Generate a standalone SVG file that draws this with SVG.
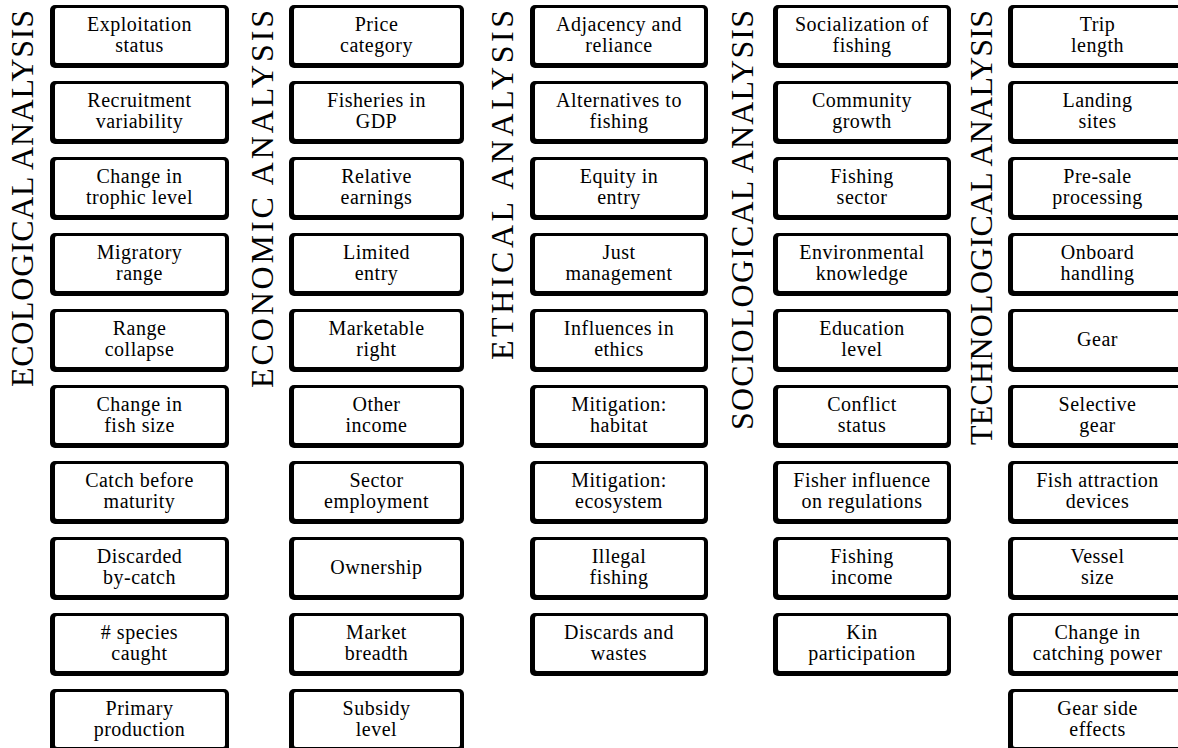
<svg xmlns="http://www.w3.org/2000/svg" xmlns:xlink="http://www.w3.org/1999/xlink" width="1178" height="748" viewBox="0 0 1178 748">
  <style>
    .title { font-family: "Liberation Serif", "Times New Roman", serif; font-size: 32px; fill: #000; }
    .lbl { font-family: "Liberation Serif", "Times New Roman", serif; font-size: 20px; letter-spacing: 0.5px; fill: #000; text-anchor: middle; }
  </style>
  <defs>
    <!-- box frames: heavy left/bottom edge, lighter top/right -->
    <g id="f175"><rect width="175" height="63" rx="5" fill="#000"/><rect x="5" y="3" width="166" height="55" rx="2" fill="#fff"/></g>
    <g id="f178"><rect width="178" height="63" rx="5" fill="#000"/><rect x="5" y="3" width="169" height="55" rx="2" fill="#fff"/></g>
    <g id="f179"><rect width="179" height="63" rx="5" fill="#000"/><rect x="5" y="3" width="170" height="55" rx="2" fill="#fff"/></g>
  </defs>
  <rect width="1178" height="748" fill="#fff"/>

  <!-- column headings -->
  <g id="titles">
    <text class="title" transform="translate(33,10) rotate(-90)" text-anchor="end" textLength="377">ECOLOGICAL ANALYSIS</text>
    <text class="title" transform="translate(273,10) rotate(-90)" text-anchor="end" textLength="378">ECONOMIC ANALYSIS</text>
    <text class="title" transform="translate(513,10) rotate(-90)" text-anchor="end" textLength="350">ETHICAL ANALYSIS</text>
    <text class="title" transform="translate(753,10) rotate(-90)" text-anchor="end" textLength="420">SOCIOLOGICAL ANALYSIS</text>
    <text class="title" transform="translate(992,10) rotate(-90)" text-anchor="end" textLength="435">TECHNOLOGICAL ANALYSIS</text>
  </g>

  <!-- ecological -->
  <g id="eco-1" transform="translate(50,5)"><use xlink:href="#f179"/><text class="lbl" x="89.5" y="26">Exploitation</text><text class="lbl" x="89.5" y="47">status</text></g>
  <g id="eco-2" transform="translate(50,81)"><use xlink:href="#f179"/><text class="lbl" x="89.5" y="26">Recruitment</text><text class="lbl" x="89.5" y="47">variability</text></g>
  <g id="eco-3" transform="translate(50,157)"><use xlink:href="#f179"/><text class="lbl" x="89.5" y="26">Change in</text><text class="lbl" x="89.5" y="47">trophic level</text></g>
  <g id="eco-4" transform="translate(50,233)"><use xlink:href="#f179"/><text class="lbl" x="89.5" y="26">Migratory</text><text class="lbl" x="89.5" y="47">range</text></g>
  <g id="eco-5" transform="translate(50,309)"><use xlink:href="#f179"/><text class="lbl" x="89.5" y="26">Range</text><text class="lbl" x="89.5" y="47">collapse</text></g>
  <g id="eco-6" transform="translate(50,385)"><use xlink:href="#f179"/><text class="lbl" x="89.5" y="26">Change in</text><text class="lbl" x="89.5" y="47">fish size</text></g>
  <g id="eco-7" transform="translate(50,461)"><use xlink:href="#f179"/><text class="lbl" x="89.5" y="26">Catch before</text><text class="lbl" x="89.5" y="47">maturity</text></g>
  <g id="eco-8" transform="translate(50,537)"><use xlink:href="#f179"/><text class="lbl" x="89.5" y="26">Discarded</text><text class="lbl" x="89.5" y="47">by-catch</text></g>
  <g id="eco-9" transform="translate(50,613)"><use xlink:href="#f179"/><text class="lbl" x="89.5" y="26"># species</text><text class="lbl" x="89.5" y="47">caught</text></g>
  <g id="eco-10" transform="translate(50,689)"><use xlink:href="#f179"/><text class="lbl" x="89.5" y="26">Primary</text><text class="lbl" x="89.5" y="47">production</text></g>

  <!-- economic -->
  <g id="econ-1" transform="translate(289,5)"><use xlink:href="#f175"/><text class="lbl" x="87.5" y="26">Price</text><text class="lbl" x="87.5" y="47">category</text></g>
  <g id="econ-2" transform="translate(289,81)"><use xlink:href="#f175"/><text class="lbl" x="87.5" y="26">Fisheries in</text><text class="lbl" x="87.5" y="47">GDP</text></g>
  <g id="econ-3" transform="translate(289,157)"><use xlink:href="#f175"/><text class="lbl" x="87.5" y="26">Relative</text><text class="lbl" x="87.5" y="47">earnings</text></g>
  <g id="econ-4" transform="translate(289,233)"><use xlink:href="#f175"/><text class="lbl" x="87.5" y="26">Limited</text><text class="lbl" x="87.5" y="47">entry</text></g>
  <g id="econ-5" transform="translate(289,309)"><use xlink:href="#f175"/><text class="lbl" x="87.5" y="26">Marketable</text><text class="lbl" x="87.5" y="47">right</text></g>
  <g id="econ-6" transform="translate(289,385)"><use xlink:href="#f175"/><text class="lbl" x="87.5" y="26">Other</text><text class="lbl" x="87.5" y="47">income</text></g>
  <g id="econ-7" transform="translate(289,461)"><use xlink:href="#f175"/><text class="lbl" x="87.5" y="26">Sector</text><text class="lbl" x="87.5" y="47">employment</text></g>
  <g id="econ-8" transform="translate(289,537)"><use xlink:href="#f175"/><text class="lbl" x="87.5" y="37">Ownership</text></g>
  <g id="econ-9" transform="translate(289,613)"><use xlink:href="#f175"/><text class="lbl" x="87.5" y="26">Market</text><text class="lbl" x="87.5" y="47">breadth</text></g>
  <g id="econ-10" transform="translate(289,689)"><use xlink:href="#f175"/><text class="lbl" x="87.5" y="26">Subsidy</text><text class="lbl" x="87.5" y="47">level</text></g>

  <!-- ethical -->
  <g id="eth-1" transform="translate(530,5)"><use xlink:href="#f178"/><text class="lbl" x="89" y="26">Adjacency and</text><text class="lbl" x="89" y="47">reliance</text></g>
  <g id="eth-2" transform="translate(530,81)"><use xlink:href="#f178"/><text class="lbl" x="89" y="26">Alternatives to</text><text class="lbl" x="89" y="47">fishing</text></g>
  <g id="eth-3" transform="translate(530,157)"><use xlink:href="#f178"/><text class="lbl" x="89" y="26">Equity in</text><text class="lbl" x="89" y="47">entry</text></g>
  <g id="eth-4" transform="translate(530,233)"><use xlink:href="#f178"/><text class="lbl" x="89" y="26">Just</text><text class="lbl" x="89" y="47">management</text></g>
  <g id="eth-5" transform="translate(530,309)"><use xlink:href="#f178"/><text class="lbl" x="89" y="26">Influences in</text><text class="lbl" x="89" y="47">ethics</text></g>
  <g id="eth-6" transform="translate(530,385)"><use xlink:href="#f178"/><text class="lbl" x="89" y="26">Mitigation:</text><text class="lbl" x="89" y="47">habitat</text></g>
  <g id="eth-7" transform="translate(530,461)"><use xlink:href="#f178"/><text class="lbl" x="89" y="26">Mitigation:</text><text class="lbl" x="89" y="47">ecosystem</text></g>
  <g id="eth-8" transform="translate(530,537)"><use xlink:href="#f178"/><text class="lbl" x="89" y="26">Illegal</text><text class="lbl" x="89" y="47">fishing</text></g>
  <g id="eth-9" transform="translate(530,613)"><use xlink:href="#f178"/><text class="lbl" x="89" y="26">Discards and</text><text class="lbl" x="89" y="47">wastes</text></g>

  <!-- sociological -->
  <g id="soc-1" transform="translate(773,5)"><use xlink:href="#f178"/><text class="lbl" x="89" y="26">Socialization of</text><text class="lbl" x="89" y="47">fishing</text></g>
  <g id="soc-2" transform="translate(773,81)"><use xlink:href="#f178"/><text class="lbl" x="89" y="26">Community</text><text class="lbl" x="89" y="47">growth</text></g>
  <g id="soc-3" transform="translate(773,157)"><use xlink:href="#f178"/><text class="lbl" x="89" y="26">Fishing</text><text class="lbl" x="89" y="47">sector</text></g>
  <g id="soc-4" transform="translate(773,233)"><use xlink:href="#f178"/><text class="lbl" x="89" y="26">Environmental</text><text class="lbl" x="89" y="47">knowledge</text></g>
  <g id="soc-5" transform="translate(773,309)"><use xlink:href="#f178"/><text class="lbl" x="89" y="26">Education</text><text class="lbl" x="89" y="47">level</text></g>
  <g id="soc-6" transform="translate(773,385)"><use xlink:href="#f178"/><text class="lbl" x="89" y="26">Conflict</text><text class="lbl" x="89" y="47">status</text></g>
  <g id="soc-7" transform="translate(773,461)"><use xlink:href="#f178"/><text class="lbl" x="89" y="26">Fisher influence</text><text class="lbl" x="89" y="47">on regulations</text></g>
  <g id="soc-8" transform="translate(773,537)"><use xlink:href="#f178"/><text class="lbl" x="89" y="26">Fishing</text><text class="lbl" x="89" y="47">income</text></g>
  <g id="soc-9" transform="translate(773,613)"><use xlink:href="#f178"/><text class="lbl" x="89" y="26">Kin</text><text class="lbl" x="89" y="47">participation</text></g>

  <!-- technological -->
  <g id="tech-1" transform="translate(1008,5)"><use xlink:href="#f179"/><text class="lbl" x="89.5" y="26">Trip</text><text class="lbl" x="89.5" y="47">length</text></g>
  <g id="tech-2" transform="translate(1008,81)"><use xlink:href="#f179"/><text class="lbl" x="89.5" y="26">Landing</text><text class="lbl" x="89.5" y="47">sites</text></g>
  <g id="tech-3" transform="translate(1008,157)"><use xlink:href="#f179"/><text class="lbl" x="89.5" y="26">Pre-sale</text><text class="lbl" x="89.5" y="47">processing</text></g>
  <g id="tech-4" transform="translate(1008,233)"><use xlink:href="#f179"/><text class="lbl" x="89.5" y="26">Onboard</text><text class="lbl" x="89.5" y="47">handling</text></g>
  <g id="tech-5" transform="translate(1008,309)"><use xlink:href="#f179"/><text class="lbl" x="89.5" y="37">Gear</text></g>
  <g id="tech-6" transform="translate(1008,385)"><use xlink:href="#f179"/><text class="lbl" x="89.5" y="26">Selective</text><text class="lbl" x="89.5" y="47">gear</text></g>
  <g id="tech-7" transform="translate(1008,461)"><use xlink:href="#f179"/><text class="lbl" x="89.5" y="26">Fish attraction</text><text class="lbl" x="89.5" y="47">devices</text></g>
  <g id="tech-8" transform="translate(1008,537)"><use xlink:href="#f179"/><text class="lbl" x="89.5" y="26">Vessel</text><text class="lbl" x="89.5" y="47">size</text></g>
  <g id="tech-9" transform="translate(1008,613)"><use xlink:href="#f179"/><text class="lbl" x="89.5" y="26">Change in</text><text class="lbl" x="89.5" y="47">catching power</text></g>
  <g id="tech-10" transform="translate(1008,689)"><use xlink:href="#f179"/><text class="lbl" x="89.5" y="26">Gear side</text><text class="lbl" x="89.5" y="47">effects</text></g>
</svg>
